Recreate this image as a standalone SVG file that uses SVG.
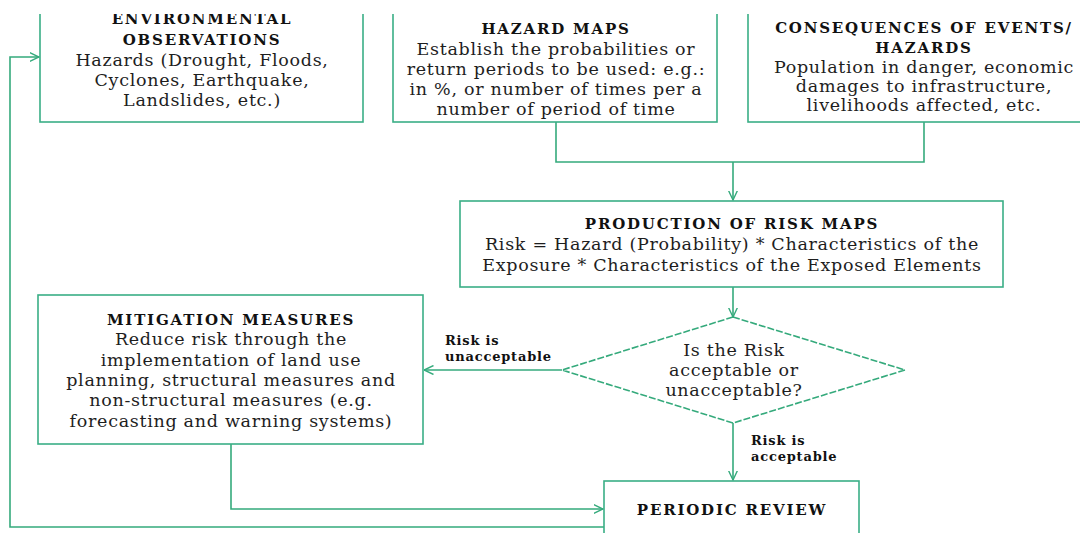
<svg xmlns="http://www.w3.org/2000/svg" width="1080" height="533" viewBox="0 0 1080 533">
  <style>
    .box { fill: #ffffff; stroke: #3aae86; stroke-width: 1.6; }
    .edge { fill: none; stroke: #35aa7c; stroke-width: 1.6; }
    .dash { fill: #ffffff; stroke: #35aa7c; stroke-width: 1.6; stroke-dasharray: 7 2; }
    .t { font-family: "DejaVu Serif", "Liberation Serif", serif; font-size: 17.5px; letter-spacing: 0.7px; fill: #1e1e1e; text-anchor: middle; }
    .h { font-family: "DejaVu Serif", "Liberation Serif", serif; font-size: 15px; letter-spacing: 1.8px; font-weight: bold; fill: #111111; text-anchor: middle; }
    .lbl { font-family: "DejaVu Serif", "Liberation Serif", serif; font-size: 13px; letter-spacing: 0.8px; font-weight: bold; fill: #111111; }
  </style>
  <defs>
    <marker id="arrow" viewBox="0 0 10 10" refX="9.5" refY="5" markerWidth="10" markerHeight="10" markerUnits="userSpaceOnUse" orient="auto">
      <path d="M0,0.5 L9.5,5 L0,9.5" fill="none" stroke="#35aa7c" stroke-width="1.4"/>
    </marker>
    <clipPath id="page">
      <rect x="0" y="14" width="1080" height="519"/>
    </clipPath>
  </defs>
  <rect x="0" y="0" width="1080" height="533" fill="#ffffff"/>

  <g clip-path="url(#page)">
    <g id="connectors">
      <!-- hazard maps and consequences merge into risk maps -->
      <path class="edge" d="M556,122 V162 H924 V122"/>
      <path class="edge" d="M733,162 V200" marker-end="url(#arrow)"/>
      <!-- risk maps to decision -->
      <path class="edge" d="M733,287 V317" marker-end="url(#arrow)"/>
      <!-- unacceptable: to mitigation -->
      <path class="edge" d="M562,370 H424" marker-end="url(#arrow)"/>
      <!-- acceptable: to periodic review -->
      <path class="edge" d="M733,423 V480" marker-end="url(#arrow)"/>
      <!-- mitigation to periodic review -->
      <path class="edge" d="M231,444 V509 H603" marker-end="url(#arrow)"/>
      <!-- feedback loop back to observations -->
      <path class="edge" d="M604,527 H10 V57 H39" marker-end="url(#arrow)"/>
      <text class="lbl" x="445" y="345">Risk is</text>
      <text class="lbl" x="445" y="361">unacceptable</text>
      <text class="lbl" x="751" y="445">Risk is</text>
      <text class="lbl" x="751" y="461">acceptable</text>
    </g>

    <g id="observations">
      <rect class="box" x="40" y="-20" width="323" height="142"/>
      <text class="h" x="202" y="24">ENVIRONMENTAL</text>
      <text class="h" x="202" y="45">OBSERVATIONS</text>
      <text class="t" x="202" y="66">Hazards (Drought, Floods,</text>
      <text class="t" x="202" y="86">Cyclones, Earthquake,</text>
      <text class="t" x="202" y="106">Landslides, etc.)</text>
    </g>

    <g id="hazard-maps">
      <rect class="box" x="393" y="-20" width="324" height="142"/>
      <text class="h" x="556" y="34">HAZARD MAPS</text>
      <text class="t" x="556" y="55">Establish the probabilities or</text>
      <text class="t" x="556" y="75">return periods to be used: e.g.:</text>
      <text class="t" x="556" y="95">in %, or number of times per a</text>
      <text class="t" x="556" y="115">number of period of time</text>
    </g>

    <g id="consequences">
      <rect class="box" x="748" y="-20" width="352" height="142"/>
      <text class="h" x="924" y="33">CONSEQUENCES OF EVENTS/</text>
      <text class="h" x="924" y="53">HAZARDS</text>
      <text class="t" x="924" y="73">Population in danger, economic</text>
      <text class="t" x="924" y="92">damages to infrastructure,</text>
      <text class="t" x="924" y="111">livelihoods affected, etc.</text>
    </g>

    <g id="risk-maps">
      <rect class="box" x="460" y="201" width="543" height="86"/>
      <text class="h" x="732" y="229">PRODUCTION OF RISK MAPS</text>
      <text class="t" x="732" y="250">Risk = Hazard (Probability) * Characteristics of the</text>
      <text class="t" x="732" y="271">Exposure * Characteristics of the Exposed Elements</text>
    </g>

    <g id="decision">
      <polygon class="dash" points="733,317 905,370 733,423 562,370"/>
      <text class="t" x="734" y="356">Is the Risk</text>
      <text class="t" x="734" y="376">acceptable or</text>
      <text class="t" x="734" y="396">unacceptable?</text>
    </g>

    <g id="mitigation">
      <rect class="box" x="38" y="295" width="385" height="149"/>
      <text class="h" x="231" y="325">MITIGATION MEASURES</text>
      <text class="t" x="231" y="345">Reduce risk through the</text>
      <text class="t" x="231" y="366">implementation of land use</text>
      <text class="t" x="231" y="386">planning, structural measures and</text>
      <text class="t" x="231" y="406">non-structural measures (e.g.</text>
      <text class="t" x="231" y="427">forecasting and warning systems)</text>
    </g>

    <g id="periodic-review">
      <rect class="box" x="604" y="481" width="255" height="80"/>
      <text class="h" x="732" y="515">PERIODIC REVIEW</text>
    </g>
  </g>
</svg>
